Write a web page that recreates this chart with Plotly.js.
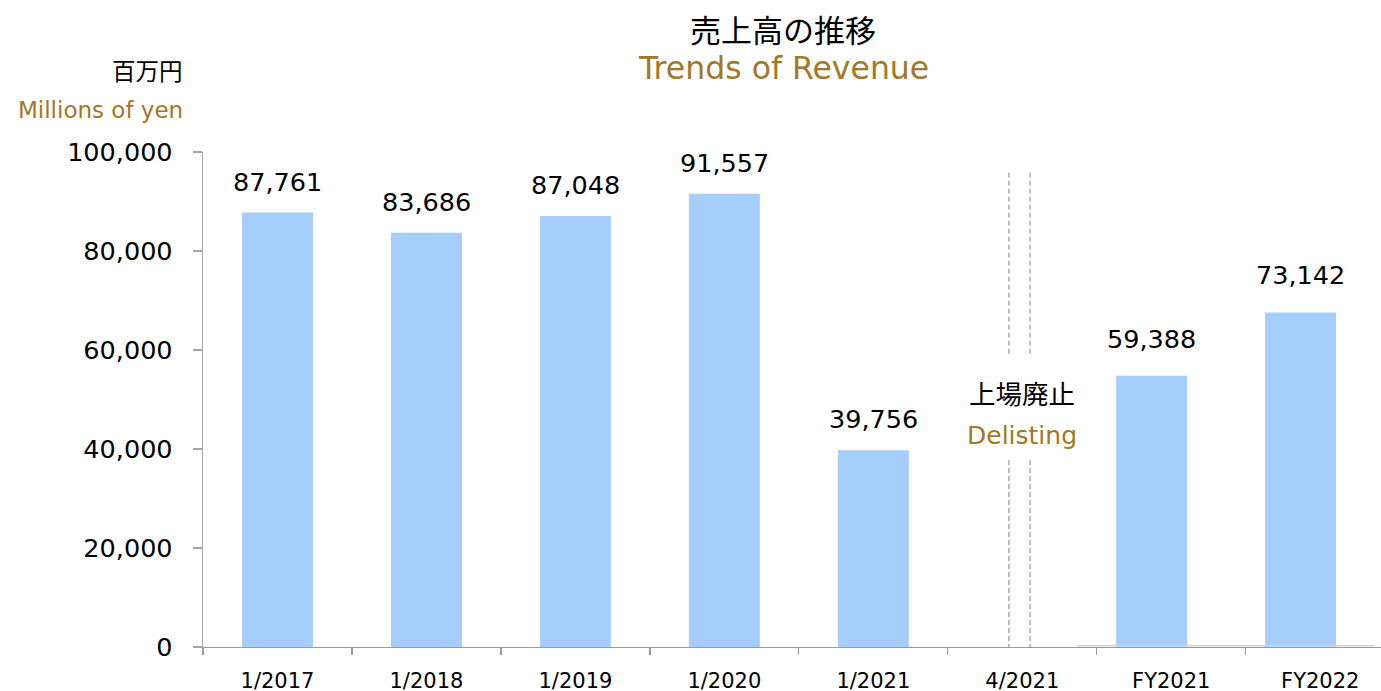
<!DOCTYPE html>
<html>
<head>
<meta charset="utf-8">
<script src="https://cdn.plot.ly/plotly-3.0.1.min.js"></script>
<style>html,body{margin:0;padding:0;background:#fff;}#chart{width:1381px;height:691px;}</style>
</head>
<body>
<div id="chart"></div>
<script>
// ---- data ----
const categories = ["1/2017", "1/2018", "1/2019", "1/2020", "1/2021", "4/2021", "FY2021", "FY2022"];
const listedPeriods = ["1/2017", "1/2018", "1/2019", "1/2020", "1/2021"];
const listedRevenue = [87761, 83686, 87048, 91557, 39756];
const listedLabels = ["87,761", "83,686", "87,048", "91,557", "39,756"];
const fyPeriods = ["FY2021", "FY2022"];
const fyBarValues = [54800, 67600];           // heights as drawn in the picture
const fyLabels = ["59,388", "73,142"];
const yTicks = [0, 20000, 40000, 60000, 80000, 100000];
const yTickText = ["0", "20,000", "40,000", "60,000", "80,000", "100,000"];
const titleJa = "売上高の推移";
const titleEn = "Trends of Revenue";
const unitJa = "百万円";
const unitEn = "Millions of yen";
const delistJa = "上場廃止";
const delistEn = "Delisting";
const delistCategory = "4/2021";

// ---- style ----
const FONT = "DejaVu Sans, Verdana, Noto Sans CJK JP, sans-serif";
const CJK = "Noto Sans CJK JP, DejaVu Sans, sans-serif";
const GOLD = "#A07828";
const BAR = "#A6CEFC";
const BW = 0.4765;

const traces = [
  {type: "bar", x: listedPeriods, y: listedRevenue, width: BW, marker: {color: BAR},
   hoverinfo: "skip", showlegend: false},
  {type: "bar", x: fyPeriods, y: fyBarValues, width: BW, offset: -BW / 2 - 0.132,
   marker: {color: BAR}, hoverinfo: "skip", showlegend: false}
];

const annotations = [];
listedPeriods.forEach((c, i) => annotations.push({
  x: c, y: listedRevenue[i], xref: "x", yref: "y", text: listedLabels[i], showarrow: false,
  yanchor: "middle", yshift: 31, font: {family: FONT, size: 25.5, color: "#000"}
}));
fyPeriods.forEach((c, i) => annotations.push({
  x: categories.indexOf(c) - 0.132, y: fyBarValues[i], xref: "x", yref: "y", text: fyLabels[i], showarrow: false,
  yanchor: "middle", yshift: 37, font: {family: FONT, size: 25.5, color: "#000"}
}));
annotations.push(
  {x: 0.4925, y: 1.2505, xref: "paper", yref: "paper", text: titleJa, showarrow: false,
   xanchor: "center", yanchor: "middle", font: {family: CJK, size: 31, color: "#000"}},
  {x: 0.4925, y: 1.1697, xref: "paper", yref: "paper", text: titleEn, showarrow: false,
   xanchor: "center", yanchor: "middle", font: {family: FONT, size: 31.5, color: GOLD}},
  {x: -0.0155, y: 1.1657, xref: "paper", yref: "paper", text: unitJa, showarrow: false,
   xanchor: "right", yanchor: "middle", font: {family: CJK, size: 23.5, color: "#000"}},
  {x: -0.0155, y: 1.0848, xref: "paper", yref: "paper", text: unitEn, showarrow: false,
   xanchor: "right", yanchor: "middle", font: {family: FONT, size: 23, color: GOLD}},
  {x: delistCategory, y: 51500, xref: "x", yref: "y", text: delistJa, showarrow: false,
   xanchor: "center", yanchor: "middle", font: {family: CJK, size: 26.5, color: "#000"}},
  {x: delistCategory, y: 42800, xref: "x", yref: "y", text: delistEn, showarrow: false,
   xanchor: "center", yanchor: "middle", font: {family: FONT, size: 25, color: GOLD}}
);

const dIdx = categories.indexOf(delistCategory);
const dash = {color: "#A0A0A0", width: 1.3, dash: "5px,3px"};
const shapes = [];
[dIdx - 0.09, dIdx + 0.052].forEach(xv => {
  shapes.push({type: "line", xref: "x", yref: "y", x0: xv, x1: xv, y0: 95800, y1: 58600, line: dash});
  shapes.push({type: "line", xref: "x", yref: "y", x0: xv, x1: xv, y0: 37800, y1: 0, line: dash});
});
shapes.push({type: "line", xref: "paper", yref: "paper", x0: 0.742, x1: 0.9949, y0: 0.0026, y1: 0.0026,
  line: {color: "#D4D4D4", width: 1.5}});

const layout = {
  width: 1381, height: 691,
  margin: {l: 203, r: 0, t: 152, b: 44, pad: 0},
  paper_bgcolor: "#fff", plot_bgcolor: "#fff",
  barmode: "overlay",
  showlegend: false,
  font: {family: FONT, color: "#000"},
  xaxis: {
    type: "category", categoryorder: "array", categoryarray: categories,
    range: [-0.5, 7.408], tickson: "boundaries", ticks: "outside", ticklen: 7, tickcolor: "#9A9A9A",
    tickwidth: 1.3, showline: true, linecolor: "#9A9A9A", linewidth: 1.3, showgrid: false, zeroline: false,
    ticklabelstandoff: 14,
    tickfont: {family: FONT, size: 21, color: "#000"}, fixedrange: true
  },
  yaxis: {
    range: [0, 100000], tickvals: yTicks, ticktext: yTickText, ticks: "outside", ticklen: 9,
    tickcolor: "#A6A6A6", tickwidth: 1.3, showline: true, linecolor: "#A6A6A6", linewidth: 1.3,
    showgrid: false, zeroline: false, ticklabelstandoff: 15,
    tickfont: {family: FONT, size: 25.5, color: "#000"}, fixedrange: true
  },
  annotations: annotations,
  shapes: shapes
};

Plotly.newPlot("chart", traces, layout, {staticPlot: true, displayModeBar: false});
</script>
</body>
</html>
